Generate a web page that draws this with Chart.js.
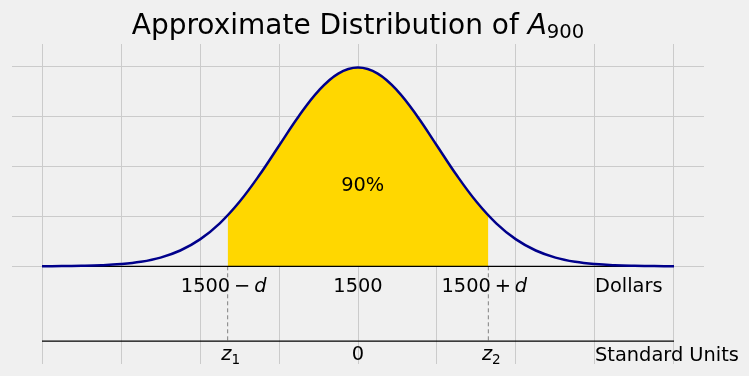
<!DOCTYPE html>
<html>
<head>
<meta charset="utf-8">
<script src="https://cdn.jsdelivr.net/npm/chart.js@4.4.1/dist/chart.umd.min.js"></script>
<style>
  body { margin: 0; background: #f0f0f0; }
  canvas { display: block; }
</style>
</head>
<body>
<canvas id="chart" width="749" height="376"></canvas>
<script>
// Normal curve in standard units
const curveX = [-4, -3.75, -3.5, -3.25, -3, -2.75, -2.5, -2.25, -2, -1.75, -1.5, -1.25, -1, -0.75, -0.5, -0.25,
                0, 0.25, 0.5, 0.75, 1, 1.25, 1.5, 1.75, 2, 2.25, 2.5, 2.75, 3, 3.25, 3.5, 3.75, 4];
const curveY = [0.0001, 0.0004, 0.0009, 0.002, 0.0044, 0.0091, 0.0175, 0.0317, 0.054, 0.0863, 0.1295, 0.1826, 0.242, 0.3011, 0.3521, 0.3867,
                0.3989, 0.3867, 0.3521, 0.3011, 0.242, 0.1826, 0.1295, 0.0863, 0.054, 0.0317, 0.0175, 0.0091, 0.0044, 0.002, 0.0009, 0.0004, 0.0001];

// Shaded middle 90%
const shadeX = [-1.65, -1.5, -1.25, -1, -0.75, -0.5, -0.25, 0, 0.25, 0.5, 0.75, 1, 1.25, 1.5, 1.65];
const shadeY = [0.1023, 0.1295, 0.1826, 0.242, 0.3011, 0.3521, 0.3867, 0.3989, 0.3867, 0.3521, 0.3011, 0.242, 0.1826, 0.1295, 0.1023];

const gridX = [-4, -3, -2, -1, 0, 1, 2, 3, 4];
const gridY = [0, 0.1, 0.2, 0.3, 0.4];

const cutoffs = [-1.65, 0, 1.65];
const dollarLabels = [['1500\u2009\u2212\u2009', 'd'], ['1500', ''], ['1500\u2009+\u2009', 'd']];
const unitLabels = [['z', '1'], ['0', ''], ['z', '2']];
const lowerAxisY = -0.15;

const FONT = '"DejaVu Sans", sans-serif';
const LABEL = 19.4;

function pts(xs, ys) {
    return xs.map((x, i) => ({ x: x, y: ys[i] }));
}

// Text drawn on top: title, dollar / standard unit labels, 90%
const annotations = {
    id: 'annotations',
    afterDraw(chart) {
        const ctx = chart.ctx;
        const xs = chart.scales.x;
        ctx.save();
        ctx.fillStyle = '#000';
        ctx.textBaseline = 'alphabetic';

        // title with italic A and subscript 900
        const t1 = 'Approximate Distribution of ';
        ctx.font = '28px ' + FONT;
        const w1 = ctx.measureText(t1).width;
        ctx.font = 'italic 28px ' + FONT;
        const w2 = ctx.measureText('A').width;
        ctx.font = '19.6px ' + FONT;
        const w3 = ctx.measureText('900').width;
        const cx = (chart.chartArea.left + chart.chartArea.right) / 2;
        let tx = cx - (w1 + w2 + w3) / 2;
        ctx.textAlign = 'left';
        ctx.font = '28px ' + FONT;
        ctx.fillText(t1, tx, 34);
        tx += w1;
        ctx.font = 'italic 28px ' + FONT;
        ctx.fillText('A', tx, 34);
        tx += w2;
        ctx.font = '19.6px ' + FONT;
        ctx.fillText('900', tx, 38);

        // label = [main, extra]; extra is italic (dollars) or subscript (units)
        function drawLabel(parts, x, y, sub) {
            const mainFont = (sub && parts[1] ? 'italic ' : '') + LABEL + 'px ' + FONT;
            const extraFont = (sub ? (LABEL * 0.7) + 'px ' : 'italic ' + LABEL + 'px ') + FONT;
            ctx.font = mainFont;
            const a = ctx.measureText(parts[0]).width;
            ctx.font = extraFont;
            const b = parts[1] ? ctx.measureText(parts[1]).width : 0;
            // small nudge so the mathtext-like labels sit as in the original
            const nudge = parts[1] ? (sub ? 3 : -4) : 0;
            const left = x - (a + b) / 2 + nudge;
            ctx.textAlign = 'left';
            ctx.font = mainFont;
            ctx.fillText(parts[0], left, y);
            if (parts[1]) {
                ctx.font = extraFont;
                ctx.fillText(parts[1], left + a, sub ? y + 4 : y);
            }
        }

        cutoffs.forEach((c, i) => {
            drawLabel(dollarLabels[i], xs.getPixelForValue(c), 292, false);
            drawLabel(unitLabels[i], xs.getPixelForValue(c), 360, true);
        });

        ctx.font = LABEL + 'px ' + FONT;
        ctx.textAlign = 'left';
        ctx.fillText('Dollars', xs.getPixelForValue(3), 292);
        ctx.fillText('Standard Units', xs.getPixelForValue(3), 361);

        ctx.textAlign = 'center';
        ctx.fillText('90%', xs.getPixelForValue(0.06), 191);
        ctx.restore();
    }
};

new Chart(document.getElementById('chart').getContext('2d'), {
    type: 'scatter',
    data: {
        datasets: [
            {
                data: pts(shadeX, shadeY),
                showLine: true,
                fill: 'origin',
                backgroundColor: '#ffd700',
                borderWidth: 0,
                pointRadius: 0,
                tension: 0.4,
                order: 5
            },
            {
                data: pts(curveX, curveY),
                showLine: true,
                borderColor: '#00008b',
                borderWidth: 2.5,
                pointRadius: 0,
                tension: 0.4,
                order: 1
            },
            {
                data: [{ x: -4, y: 0 }, { x: 4, y: 0 }],
                showLine: true,
                borderColor: '#000',
                borderWidth: 1.2,
                pointRadius: 0,
                order: 2
            },
            {
                data: [{ x: -4, y: lowerAxisY }, { x: 4, y: lowerAxisY }],
                showLine: true,
                borderColor: '#000',
                borderWidth: 1.2,
                pointRadius: 0,
                order: 2
            },
            {
                data: [{ x: cutoffs[0], y: 0 }, { x: cutoffs[0], y: lowerAxisY }],
                showLine: true,
                borderColor: '#808080',
                borderWidth: 1,
                borderDash: [4, 3],
                pointRadius: 0,
                order: 3
            },
            {
                data: [{ x: cutoffs[2], y: 0 }, { x: cutoffs[2], y: lowerAxisY }],
                showLine: true,
                borderColor: '#808080',
                borderWidth: 1,
                borderDash: [4, 3],
                pointRadius: 0,
                order: 3
            }
        ]
    },
    options: {
        responsive: false,
        animation: false,
        devicePixelRatio: 1,
        layout: { padding: { left: 12, right: 45, top: 44, bottom: 12 } },
        scales: {
            x: {
                type: 'linear',
                min: -4.38,
                max: 4.38,
                afterBuildTicks: (scale) => { scale.ticks = gridX.map(v => ({ value: v })); },
                ticks: { display: false },
                grid: { color: '#cbcbcb', lineWidth: 1, drawTicks: false },
                border: { display: false }
            },
            y: {
                type: 'linear',
                min: -0.196,
                max: 0.446,
                afterBuildTicks: (scale) => { scale.ticks = gridY.map(v => ({ value: v })); },
                ticks: { display: false },
                grid: { color: '#cbcbcb', lineWidth: 1, drawTicks: false },
                border: { display: false }
            }
        },
        plugins: {
            legend: { display: false },
            tooltip: { enabled: false },
            title: { display: false }
        }
    },
    plugins: [annotations]
});
</script>
</body>
</html>
